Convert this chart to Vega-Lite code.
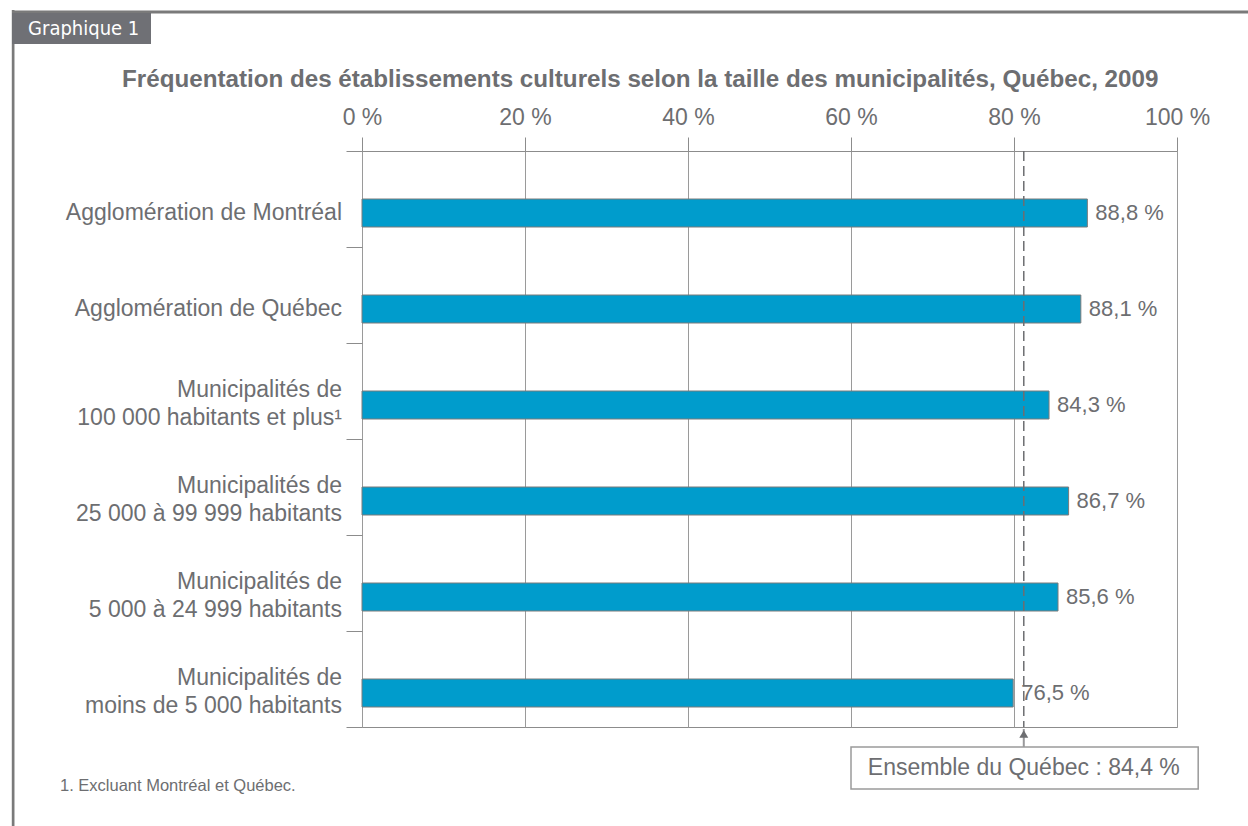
{
  "$schema": "https://vega.github.io/schema/vega-lite/v6.json",
  "width": 815,
  "height": 576,
  "autosize": {"type": "none"},
  "padding": {"left": 362, "top": 151, "right": 71, "bottom": 99},
  "background": "white",
  "config": {
    "view": {"stroke": "#8c8c8c", "strokeWidth": 1},
    "font": "Liberation Sans"
  },
  "title": {
    "text": "Fréquentation des établissements culturels selon la taille des municipalités, Québec, 2009",
    "anchor": "start",
    "frame": "group",
    "dx": -240,
    "offset": -82,
    "font": "Liberation Sans",
    "fontSize": 24.2,
    "fontWeight": "bold",
    "color": "#6d6e71"
  },
  "datasets": {
    "fréquentation": [
      {"categorie": "Agglomération de Montréal", "valeur": 89.0, "etiquette": "88,8 %"},
      {"categorie": "Agglomération de Québec", "valeur": 88.2, "etiquette": "88,1 %"},
      {"categorie": "Municipalités de|100 000 habitants et plus¹", "valeur": 84.3, "etiquette": "84,3 %"},
      {"categorie": "Municipalités de|25 000 à 99 999 habitants", "valeur": 86.7, "etiquette": "86,7 %"},
      {"categorie": "Municipalités de|5 000 à 24 999 habitants", "valeur": 85.4, "etiquette": "85,6 %"},
      {"categorie": "Municipalités de|moins de 5 000 habitants", "valeur": 79.9, "etiquette": "76,5 %"}
    ],
    "ensemble": [
      {"libelle": "Ensemble du Québec : 84,4 %", "valeur": 81.2}
    ]
  },
  "layer": [
    {
      "data": {"name": "fréquentation"},
      "mark": {"type": "bar", "height": 28, "yOffset": 14, "fill": "#009ccc", "stroke": "#7a7a7a", "strokeWidth": 1},
      "encoding": {
        "y": {
          "field": "categorie",
          "type": "nominal",
          "sort": null,
          "scale": {"paddingInner": 0, "paddingOuter": 0},
          "axis": {
            "title": null,
            "orient": "left",
            "tickBand": "extent",
            "tickSize": 16,
            "tickColor": "#8c8c8c",
            "domain": false,
            "labels": false
          }
        },
        "x": {
          "field": "valeur",
          "type": "quantitative",
          "scale": {"domain": [0, 100], "nice": false, "zero": true},
          "axis": {
            "title": null,
            "orient": "top",
            "values": [0, 20, 40, 60, 80, 100],
            "labelExpr": "datum.value + ' %'",
            "labelFlush": false,
            "grid": true,
            "gridColor": "#9a9a9a",
            "gridWidth": 1,
            "domain": false,
            "tickSize": 14,
            "tickColor": "#8c8c8c",
            "labelPadding": 8,
            "labelFontSize": 23,
            "labelColor": "#6d6e71",
            "labelFont": "Liberation Sans"
          }
        }
      }
    },
    {
      "data": {"name": "fréquentation"},
      "transform": [{"filter": "indexof(datum.categorie, '|') < 0"}],
      "mark": {"type": "text", "align": "right", "baseline": "middle", "dx": -20, "yOffset": 14, "fontSize": 23, "color": "#6d6e71", "font": "Liberation Sans"},
      "encoding": {
        "y": {"field": "categorie", "type": "nominal", "sort": null},
        "x": {"datum": 0, "type": "quantitative"},
        "text": {"field": "categorie"}
      }
    },
    {
      "data": {"name": "fréquentation"},
      "transform": [{"filter": "indexof(datum.categorie, '|') >= 0"}],
      "mark": {"type": "text", "align": "right", "baseline": "middle", "dx": -20, "yOffset": -1, "lineBreak": "|", "lineHeight": 28, "fontSize": 23, "color": "#6d6e71", "font": "Liberation Sans"},
      "encoding": {
        "y": {"field": "categorie", "type": "nominal", "sort": null},
        "x": {"datum": 0, "type": "quantitative"},
        "text": {"field": "categorie"}
      }
    },
    {
      "data": {"name": "fréquentation"},
      "mark": {"type": "text", "align": "left", "baseline": "middle", "dx": 8, "yOffset": 14, "fontSize": 22, "color": "#6d6e71", "font": "Liberation Sans"},
      "encoding": {
        "y": {"field": "categorie", "type": "nominal", "sort": null},
        "x": {"field": "valeur", "type": "quantitative"},
        "text": {"field": "etiquette"}
      }
    },
    {
      "data": {"name": "ensemble"},
      "mark": {"type": "rule", "strokeDash": [10, 5], "color": "#6d6e71", "strokeWidth": 1.5},
      "encoding": {
        "x": {"field": "valeur", "type": "quantitative"}
      }
    },
    {
      "data": {"name": "ensemble"},
      "mark": {"type": "tick", "orient": "vertical", "size": 18, "thickness": 2, "yOffset": 59, "color": "#6d6e71"},
      "encoding": {
        "x": {"field": "valeur", "type": "quantitative"},
        "y": {"datum": "Municipalités de|moins de 5 000 habitants", "type": "nominal"}
      }
    },
    {
      "data": {"name": "ensemble"},
      "mark": {"type": "point", "shape": "triangle-up", "filled": true, "size": 80, "opacity": 1, "yOffset": 55, "color": "#6d6e71"},
      "encoding": {
        "x": {"field": "valeur", "type": "quantitative"},
        "y": {"datum": "Municipalités de|moins de 5 000 habitants", "type": "nominal"}
      }
    },
    {
      "data": {"name": "ensemble"},
      "mark": {"type": "bar", "height": 42, "yOffset": 89, "fill": "white", "stroke": "#9a9a9a", "strokeWidth": 1.5},
      "encoding": {
        "x": {"datum": 60.0, "type": "quantitative"},
        "x2": {"datum": 102.6},
        "y": {"datum": "Municipalités de|moins de 5 000 habitants", "type": "nominal"}
      }
    },
    {
      "data": {"name": "ensemble"},
      "mark": {"type": "text", "align": "center", "baseline": "middle", "yOffset": 89, "fontSize": 23, "color": "#6d6e71", "font": "Liberation Sans"},
      "encoding": {
        "x": {"field": "valeur", "type": "quantitative"},
        "y": {"datum": "Municipalités de|moins de 5 000 habitants", "type": "nominal"},
        "text": {"field": "libelle"}
      }
    },
    {
      "data": {"name": "ensemble"},
      "mark": {"type": "text", "align": "left", "baseline": "middle", "yOffset": 107, "fontSize": 16.5, "color": "#6d6e71", "font": "Liberation Sans", "text": "1. Excluant Montréal et Québec."},
      "encoding": {
        "x": {"datum": -37.06, "type": "quantitative"},
        "y": {"datum": "Municipalités de|moins de 5 000 habitants", "type": "nominal"}
      }
    },
    {
      "data": {"name": "ensemble"},
      "mark": {"type": "bar", "height": 3, "yOffset": -187, "fill": "#7a7a7a"},
      "encoding": {
        "x": {"datum": -42.94, "type": "quantitative"},
        "x2": {"datum": 110},
        "y": {"datum": "Agglomération de Montréal", "type": "nominal"}
      }
    },
    {
      "data": {"name": "ensemble"},
      "mark": {"type": "bar", "height": 830, "yOffset": 226, "fill": "#7a7a7a"},
      "encoding": {
        "x": {"datum": -42.97, "type": "quantitative"},
        "x2": {"datum": -42.64},
        "y": {"datum": "Agglomération de Montréal", "type": "nominal"}
      }
    },
    {
      "data": {"name": "ensemble"},
      "mark": {"type": "bar", "height": 31, "yOffset": -170.5, "fill": "#6f7075"},
      "encoding": {
        "x": {"datum": -42.94, "type": "quantitative"},
        "x2": {"datum": -25.89},
        "y": {"datum": "Agglomération de Montréal", "type": "nominal"}
      }
    },
    {
      "data": {"name": "ensemble"},
      "mark": {"type": "text", "align": "left", "baseline": "middle", "dx": 16, "yOffset": -170.5, "fontSize": 20, "color": "white", "font": "Liberation Sans Narrow, DejaVu Sans Condensed, Roboto", "text": "Graphique 1"},
      "encoding": {
        "x": {"datum": -42.94, "type": "quantitative"},
        "y": {"datum": "Agglomération de Montréal", "type": "nominal"}
      }
    }
  ]
}
